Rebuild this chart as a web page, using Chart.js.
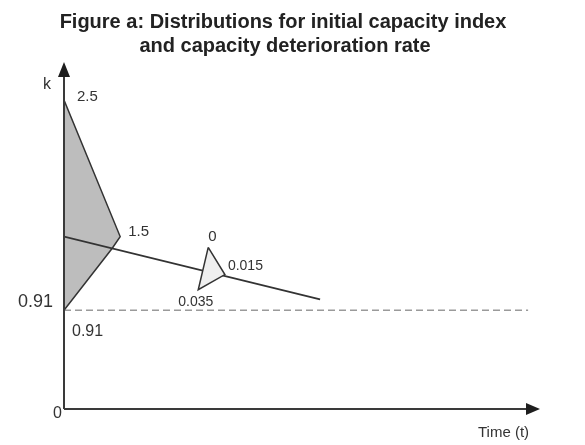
<!DOCTYPE html>
<html>
<head>
<meta charset="utf-8">
<script src="https://cdn.jsdelivr.net/npm/chart.js@4"></script>
<style>
  body { margin: 0; background: #fff; }
</style>
</head>
<body>
<canvas id="chart" width="585" height="445"></canvas>
<script>
const titleLines = ["Figure a: Distributions for initial capacity index", "and capacity deterioration rate"];

// gray shape: distribution of the initial capacity index k
const kShapeX = [0, 1.18, 1.01, 0, 0];
const kShapeY = [2.85, 1.59, 1.48, 0.91, 2.85];

// capacity deterioration line
const lineX = [0, 5.38];
const lineY = [1.59, 1.01];

// small triangle: distribution of the deterioration rate
const rateX = [3.03, 3.38, 2.82, 3.03];
const rateY = [1.49, 1.24, 1.10, 1.49];

// dashed level at k = 0.91
const refX = [0, 9.75];
const refY = [0.91, 0.91];

// value labels, anchored on the points above
const labelText = ["2.5", "1.5", "0.91", "0.91", "0", "0.015", "0.035"];
const labelAtX = [0, 1.18, 0, 0, 3.03, 3.38, 2.82];
const labelAtY = [2.85, 1.59, 0.91, 0.91, 1.49, 1.24, 1.10];

const toPoints = (xs, ys) => xs.map((x, i) => ({ x: x, y: ys[i] }));

/* offsets and sizes for the labels (px) */
const labelStyle = [
  { dx: 13, dy: -3, size: 15, align: "left" },
  { dx: 8, dy: -5, size: 15, align: "left" },
  { dx: -11, dy: -8, size: 18, align: "right" },
  { dx: 8, dy: 21, size: 16, align: "left" },
  { dx: 0, dy: -11, size: 15, align: "left" },
  { dx: 3, dy: -8, size: 14, align: "left" },
  { dx: -20, dy: 12, size: 14, align: "left" }
];

const axesPlugin = {
  id: "axesPlugin",
  afterDraw(chart) {
    const ctx = chart.ctx;
    const xs = chart.scales.x, ys = chart.scales.y;
    const x0 = xs.getPixelForValue(0), y0 = ys.getPixelForValue(0);
    const xEnd = xs.getPixelForValue(xs.max), yEnd = ys.getPixelForValue(ys.max);

    ctx.save();
    ctx.strokeStyle = "#3a3a3a";
    ctx.fillStyle = "#1e1e1e";
    ctx.lineWidth = 2;
    ctx.beginPath();
    ctx.moveTo(x0, y0);
    ctx.lineTo(x0, yEnd + 8);
    ctx.moveTo(x0, y0);
    ctx.lineTo(xEnd - 8, y0);
    ctx.stroke();

    // arrow heads
    ctx.beginPath();
    ctx.moveTo(x0, yEnd);
    ctx.lineTo(x0 - 6, yEnd + 15);
    ctx.lineTo(x0 + 6, yEnd + 15);
    ctx.closePath();
    ctx.fill();
    ctx.beginPath();
    ctx.moveTo(xEnd, y0);
    ctx.lineTo(xEnd - 14, y0 - 6);
    ctx.lineTo(xEnd - 14, y0 + 6);
    ctx.closePath();
    ctx.fill();

    // title
    ctx.fillStyle = "#222";
    ctx.textAlign = "center";
    ctx.textBaseline = "alphabetic";
    ctx.font = "bold 20px 'Liberation Sans Narrow', 'Arial Narrow', sans-serif";
    ctx.fillText(titleLines[0], 283, 28);
    ctx.fillText(titleLines[1], 285, 52);

    // axis names
    ctx.fillStyle = "#333";
    ctx.textBaseline = "middle";
    ctx.font = "16px 'Liberation Sans', Arial, sans-serif";
    ctx.textAlign = "left";
    ctx.fillText("k", x0 - 21, 85);
    ctx.textAlign = "right";
    ctx.fillText("0", x0 - 2, y0 + 5);
    ctx.font = "15px 'Liberation Sans', Arial, sans-serif";
    ctx.textAlign = "left";
    ctx.fillText("Time (t)", 478, y0 + 24);

    // value labels
    labelText.forEach((t, i) => {
      const s = labelStyle[i];
      ctx.font = s.size + "px 'Liberation Sans', Arial, sans-serif";
      ctx.textAlign = s.align;
      ctx.fillText(t, xs.getPixelForValue(labelAtX[i]) + s.dx, ys.getPixelForValue(labelAtY[i]) + s.dy);
    });
    ctx.restore();
  }
};

new Chart(document.getElementById("chart"), {
  type: "scatter",
  data: {
    datasets: [
      {
        data: toPoints(rateX, rateY),
        showLine: true,
        borderColor: "#333",
        borderWidth: 1.5,
        backgroundColor: "#efefef",
        fill: "shape",
        pointRadius: 0
      },
      {
        data: toPoints(lineX, lineY),
        showLine: true,
        borderColor: "#333",
        borderWidth: 1.8,
        pointRadius: 0
      },
      {
        data: toPoints(kShapeX, kShapeY),
        showLine: true,
        borderColor: "#333",
        borderWidth: 1.5,
        backgroundColor: "#bdbdbd",
        fill: "shape",
        pointRadius: 0
      },
      {
        data: toPoints(refX, refY),
        showLine: true,
        borderColor: "#9a9a9a",
        borderWidth: 1.5,
        borderDash: [7, 4],
        pointRadius: 0
      }
    ]
  },
  options: {
    responsive: false,
    animation: false,
    layout: { padding: { left: 64, right: 45, top: 62, bottom: 36 } },
    plugins: {
      legend: { display: false },
      tooltip: { enabled: false },
      title: { display: false }
    },
    scales: {
      x: { type: "linear", min: 0, max: 10, display: false },
      y: { type: "linear", min: 0, max: 3.2, display: false }
    }
  },
  plugins: [axesPlugin]
});
</script>
</body>
</html>
